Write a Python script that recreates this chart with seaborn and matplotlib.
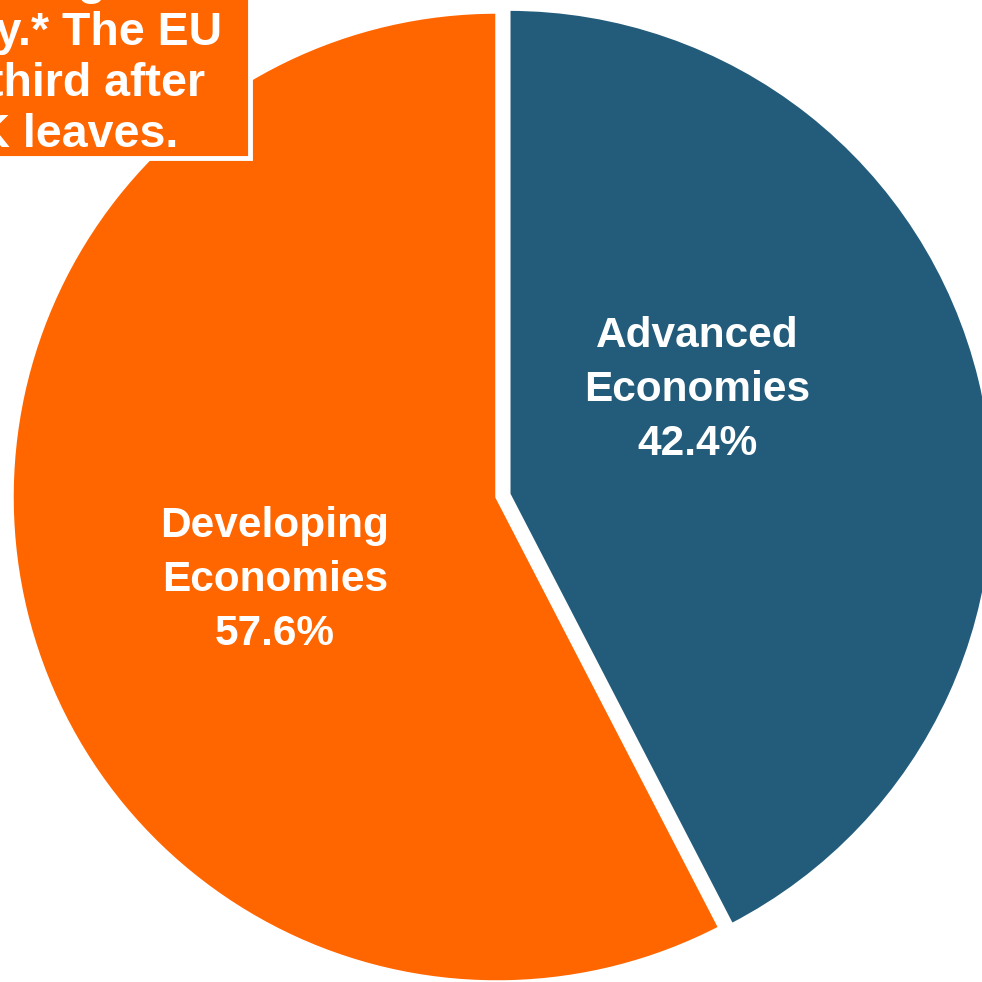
import matplotlib
matplotlib.use("Agg")
import matplotlib.pyplot as plt
import matplotlib.patches as mpatches
import seaborn as sns

sns.set_theme(style="white")
plt.rcParams["font.family"] = ["Liberation Sans", "DejaVu Sans"]

# Data
categories = ["Advanced\nEconomies", "Developing\nEconomies"]
shares = [42.4, 57.6]
colors = ["#235C7B", "#FF6600"]
note_lines = ["the world's largest", "economy.* The EU", "will be third after", "the UK leaves."]

W = H = 982
fig = plt.figure(figsize=(W / 100, H / 100), dpi=100)
ax = fig.add_axes([0, 0, 1, 1])

cx, cy, rpx = 497, 497, 485  # pie centre and radius in pixels
wedges, _ = ax.pie(
    shares,
    colors=colors,
    startangle=90,
    counterclock=False,
    explode=[0.025, 0.0],
    radius=1.0,
    wedgeprops=dict(edgecolor="white", linewidth=2.5),
)
ax.set_xlim(-cx / rpx, (W - cx) / rpx)
ax.set_ylim(-(H - cy) / rpx, cy / rpx)
ax.set_aspect("equal")
ax.axis("off")

# Slice labels
label_pos = [(697, 390), (275, 580)]
for (px, py), name, val in zip(label_pos, categories, shares):
    ax.text((px - cx) / rpx, (cy - py) / rpx, f"{name}\n{val:.1f}%",
            ha="center", va="center", color="white", fontsize=30.5,
            fontweight="bold", linespacing=1.45)

# Call-out box in the top-left corner
box = mpatches.Rectangle((-20 / W, 1 - 158 / H), 270 / W, 200 / H,
                         transform=fig.transFigure, facecolor="#FF6600",
                         edgecolor="white", linewidth=3.5, zorder=5,
                         clip_on=False)
fig.patches.append(box)
note_right = [173, 222, 205, 178]
note_base = [-6, 45, 96, 147]
for txt, xr, yb in zip(note_lines, note_right, note_base):
    fig.text(xr / W, 1 - yb / H, txt, ha="right", va="baseline",
             color="white", fontsize=33.5, fontweight="bold", zorder=6)

fig.savefig("out.png", dpi=100)
